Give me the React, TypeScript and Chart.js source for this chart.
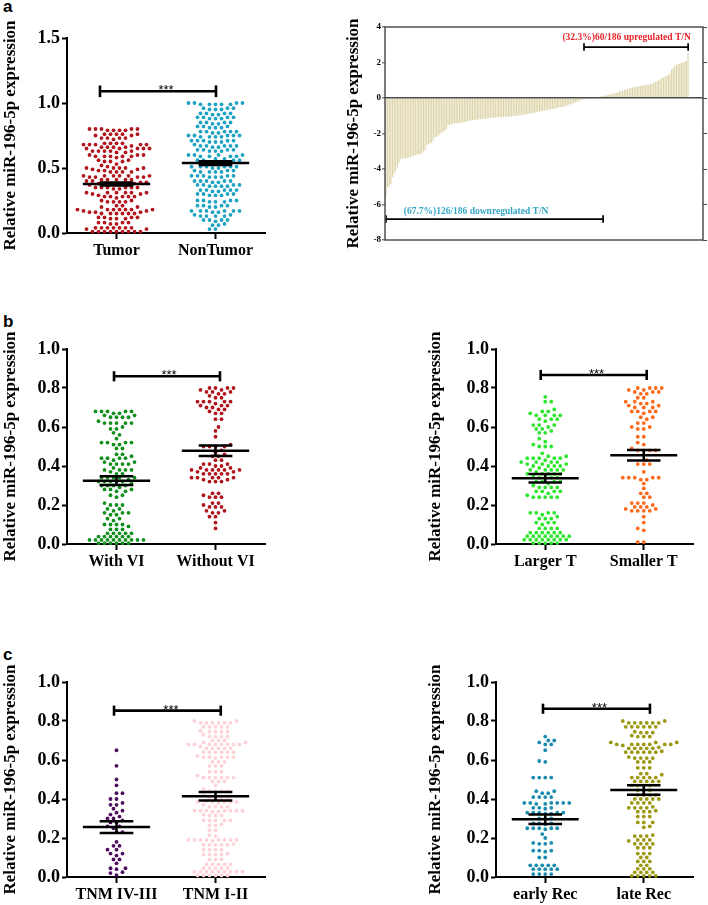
import React, { useEffect, useRef } from 'react';
import { Chart, registerables } from 'chart.js';
Chart.register(...registerables);

const SERIF = '"Liberation Serif", "Times New Roman", serif';
const SANS = '"Liberation Sans", Arial, sans-serif';
const Y_TITLE = 'Relative miR-196-5p expression';

// ---------- categories ----------
const labelsA = ['Tumor', 'NonTumor'];
const labelsVI = ['With VI', 'Without VI'];
const labelsT = ['Larger T', 'Smaller T'];
const labelsTNM = ['TNM IV-III', 'TNM I-II'];
const labelsRec = ['early Rec', 'late Rec'];

// ---------- panel a (left) ----------
const tumor = [
  0.80, 0.80, 0.79, 0.80, 0.79, 0.80, 0.79, 0.80, 0.79,
  0.76, 0.76, 0.75, 0.76, 0.76, 0.75, 0.76,
  0.73, 0.73, 0.72, 0.73, 0.73,
  0.69, 0.68, 0.69, 0.68, 0.68, 0.69, 0.68, 0.67, 0.68, 0.69,
  0.65, 0.66, 0.65, 0.65, 0.66, 0.65, 0.66, 0.65, 0.66,
  0.63, 0.62, 0.63, 0.63, 0.62, 0.63, 0.63,
  0.60, 0.59, 0.59, 0.60, 0.59, 0.58, 0.59, 0.59, 0.60,
  0.55, 0.56, 0.55, 0.55, 0.56,
  0.53, 0.52,
  0.50, 0.50, 0.49, 0.50, 0.50, 0.49, 0.50, 0.51,
  0.47, 0.48, 0.47, 0.47, 0.48, 0.47,
  0.44, 0.43, 0.44, 0.44, 0.43, 0.44, 0.44, 0.43, 0.44, 0.43,
  0.41, 0.41, 0.40, 0.41, 0.41, 0.41, 0.40,
  0.38, 0.38, 0.39, 0.38, 0.37, 0.38, 0.38, 0.39, 0.38, 0.37,
  0.35, 0.35, 0.34, 0.35, 0.35, 0.34, 0.35, 0.35,
  0.31, 0.31, 0.30, 0.31, 0.31, 0.30, 0.31, 0.31,
  0.28, 0.28, 0.28, 0.29, 0.28, 0.28, 0.27,
  0.24, 0.25, 0.24, 0.24, 0.25, 0.24,
  0.21, 0.20, 0.21, 0.20,
  0.18, 0.18, 0.17, 0.18, 0.18, 0.18, 0.17, 0.18, 0.18,
  0.15, 0.16, 0.15, 0.15, 0.16, 0.15, 0.15, 0.16, 0.15,
  0.12, 0.11, 0.12, 0.11, 0.12, 0.12, 0.11,
  0.08, 0.08, 0.07, 0.08, 0.08, 0.07,
  0.04, 0.04, 0.03, 0.04, 0.04, 0.04, 0.03, 0.04, 0.04,
  0.01, 0.01, 0.01, 0.01, 0.01, 0.01, 0.01, 0.01, 0.01,
];
const nonTumor = [
  1.00, 0.99, 1.00, 0.99, 1.00, 0.99, 0.99, 1.00, 0.99,
  0.96, 0.95, 0.96, 0.95, 0.96, 0.95,
  0.92, 0.92, 0.91, 0.92, 0.92, 0.91,
  0.89, 0.88, 0.89, 0.88, 0.89, 0.88, 0.89,
  0.85, 0.84, 0.85, 0.85, 0.84, 0.85,
  0.82, 0.81, 0.82, 0.81, 0.82, 0.81,
  0.78, 0.78, 0.77, 0.78, 0.78, 0.77, 0.78,
  0.75, 0.74, 0.75, 0.74, 0.75, 0.74, 0.75, 0.74, 0.75,
  0.71, 0.70, 0.71, 0.71, 0.70, 0.71, 0.70, 0.71,
  0.67, 0.67, 0.66, 0.67, 0.67, 0.68, 0.67, 0.66,
  0.64, 0.63, 0.64, 0.64, 0.63, 0.64, 0.63,
  0.60, 0.59, 0.60, 0.59, 0.60, 0.59, 0.60, 0.59,
  0.56, 0.57, 0.56, 0.56, 0.57, 0.56,
  0.54, 0.54, 0.53, 0.54,
  0.51, 0.51, 0.50, 0.51, 0.51, 0.50, 0.51, 0.51,
  0.48, 0.47, 0.47, 0.48, 0.47, 0.47, 0.48,
  0.44, 0.43, 0.44, 0.44, 0.43, 0.44, 0.43, 0.44,
  0.40, 0.40, 0.39, 0.40, 0.40, 0.39, 0.40,
  0.37, 0.36, 0.37, 0.36, 0.37, 0.36, 0.37, 0.36,
  0.33, 0.33, 0.32, 0.33, 0.33, 0.32, 0.33,
  0.30, 0.29, 0.30, 0.29, 0.30, 0.29, 0.30,
  0.25, 0.24, 0.25, 0.24, 0.25, 0.24, 0.25,
  0.21, 0.21, 0.20, 0.21, 0.21, 0.20,
  0.17, 0.17, 0.16, 0.17, 0.17, 0.16, 0.17, 0.17,
  0.13, 0.14, 0.13, 0.13, 0.14, 0.13,
  0.10, 0.10, 0.09, 0.10, 0.10,
  0.07, 0.06, 0.06,
  0.03, 0.03,
];
const meansA = [0.377, 0.538];
const semsA = [0.012, 0.014];

// ---------- panel a (right): T/N ratio, sorted ----------
const tnRatio = [
  -5.58, -5.05, -4.95, -4.85, -4.45, -4.3, -4.1, -3.9, -3.65, -3.45,
  -3.42, -3.4, -3.4, -3.38, -3.35, -3.3, -3.28, -3.25, -3.22, -3.2, -3.18, -3.15, -3.12,
  -3.0, -2.95,
  -2.65, -2.6, -2.58, -2.52, -2.4,
  -2.2, -2.18, -2.12, -2.05, -1.95,
  -1.9, -1.85, -1.75,
  -1.55, -1.5, -1.48,
  -1.45, -1.44, -1.42, -1.42, -1.4, -1.39, -1.38, -1.36, -1.34, -1.3,
  -1.28, -1.27, -1.26, -1.25, -1.24, -1.22, -1.2, -1.19, -1.18, -1.17, -1.16, -1.15, -1.14, -1.12,
  -1.11, -1.1, -1.1, -1.09, -1.08, -1.08, -1.07, -1.06, -1.06, -1.05, -1.05, -1.04, -1.03, -1.02, -1.01, -1.0,
  -0.98, -0.97, -0.96, -0.95, -0.94, -0.92, -0.9, -0.88, -0.86, -0.84, -0.82, -0.8,
  -0.78, -0.76, -0.74, -0.72, -0.7, -0.69, -0.68, -0.66, -0.64, -0.62, -0.6,
  -0.58, -0.56, -0.54, -0.52, -0.5, -0.48, -0.45, -0.42,
  -0.38, -0.35, -0.32, -0.28, -0.25, -0.22, -0.18, -0.14, -0.1, -0.07, -0.04, -0.03, -0.02, -0.01,
  0.02, 0.03, 0.04, 0.05, 0.06, 0.07, 0.09, 0.11, 0.13,
  0.16, 0.18, 0.2, 0.22, 0.24, 0.27, 0.3, 0.33,
  0.36, 0.39, 0.42, 0.45, 0.48, 0.5, 0.53, 0.56, 0.58, 0.61, 0.63, 0.65,
  0.67, 0.69, 0.7, 0.72, 0.73, 0.75, 0.76, 0.78, 0.8, 0.85,
  0.9, 0.95, 1.0, 1.05, 1.12, 1.18, 1.22, 1.26, 1.3, 1.38,
  1.6, 1.7, 1.8, 1.88, 1.92, 1.95, 1.98, 2.0, 2.03, 2.08, 2.55,
];
const upText = '(32.3%)60/186 upregulated T/N';
const downText = '(67.7%)126/186 downregulated T/N';

// ---------- panel b ----------
const withVI = [
  0.68, 0.68, 0.67, 0.68, 0.68, 0.67, 0.68,
  0.65, 0.65, 0.66, 0.65, 0.65, 0.66,
  0.62, 0.62, 0.62, 0.63, 0.62, 0.62,
  0.59, 0.59, 0.60,
  0.57, 0.56,
  0.54,
  0.52, 0.51, 0.52, 0.51, 0.52, 0.52,
  0.49, 0.49,
  0.46, 0.46, 0.45,
  0.44, 0.44, 0.43, 0.44, 0.44,
  0.41, 0.42, 0.41, 0.41, 0.42, 0.41,
  0.38, 0.38, 0.39, 0.38, 0.38,
  0.36, 0.36, 0.37,
  0.34, 0.34, 0.34, 0.33, 0.34, 0.34,
  0.32, 0.32, 0.31, 0.32, 0.32, 0.32,
  0.30, 0.30, 0.29, 0.30, 0.30,
  0.28, 0.27, 0.28, 0.28, 0.27,
  0.25, 0.25, 0.24,
  0.20, 0.21, 0.20, 0.20,
  0.18, 0.18, 0.17,
  0.16, 0.15, 0.16, 0.16, 0.15,
  0.13, 0.12, 0.13,
  0.10, 0.10, 0.09, 0.10, 0.10,
  0.075, 0.075, 0.075,
  0.055, 0.055, 0.055, 0.055, 0.055,
  0.038, 0.038, 0.038, 0.038, 0.038, 0.038,
  0.021, 0.021, 0.021, 0.021, 0.021, 0.021, 0.021, 0.021, 0.021, 0.021,
  0.004, 0.004, 0.004, 0.004, 0.004, 0.004,
];
const withoutVI = [
  0.80, 0.80, 0.79, 0.80, 0.80, 0.79,
  0.78, 0.77, 0.78, 0.77, 0.78,
  0.75, 0.75, 0.76,
  0.73, 0.73, 0.72, 0.73, 0.73, 0.73,
  0.71, 0.70, 0.71, 0.70, 0.71,
  0.69, 0.69,
  0.67, 0.67, 0.68,
  0.64, 0.64,
  0.60, 0.58, 0.55,
  0.50, 0.50, 0.51, 0.50, 0.50,
  0.48, 0.47,
  0.45, 0.45, 0.46,
  0.43, 0.43,
  0.41, 0.40, 0.41, 0.40, 0.41,
  0.38, 0.38, 0.39, 0.38, 0.38, 0.39, 0.38, 0.38,
  0.36, 0.36, 0.37, 0.36, 0.36, 0.37, 0.36,
  0.34, 0.34, 0.33, 0.34, 0.34, 0.33, 0.34,
  0.32, 0.32, 0.32,
  0.26, 0.26,
  0.24, 0.25, 0.24, 0.24,
  0.21, 0.21,
  0.19, 0.19, 0.19, 0.20,
  0.17, 0.16, 0.17, 0.16,
  0.14, 0.14,
  0.11, 0.08,
];
const meansVI = [0.325, 0.478];
const semsVI = [0.022, 0.027];

const largerT = [
  0.755,
  0.73, 0.73,
  0.68, 0.68, 0.69,
  0.66, 0.66, 0.67, 0.66, 0.66,
  0.64, 0.63, 0.64, 0.64,
  0.61, 0.61, 0.61, 0.60,
  0.59, 0.59, 0.58,
  0.57, 0.57,
  0.54, 0.525,
  0.50, 0.50, 0.50, 0.51,
  0.465,
  0.44, 0.44, 0.45, 0.44, 0.44, 0.45, 0.44,
  0.42, 0.42, 0.42, 0.43, 0.42,
  0.40, 0.41, 0.40, 0.40, 0.41, 0.40, 0.41,
  0.38, 0.38, 0.39, 0.38, 0.38, 0.38,
  0.36, 0.36, 0.36, 0.37, 0.36, 0.36,
  0.34, 0.34, 0.35, 0.34, 0.34,
  0.32, 0.32, 0.31, 0.32, 0.32,
  0.29, 0.29, 0.30, 0.29, 0.29,
  0.27, 0.27, 0.26, 0.27, 0.27,
  0.24, 0.24, 0.25, 0.24, 0.24, 0.24,
  0.16, 0.16, 0.15, 0.16, 0.16,
  0.13, 0.13, 0.14, 0.13,
  0.11, 0.10, 0.11, 0.11,
  0.08, 0.08, 0.08, 0.08,
  0.058, 0.058, 0.058, 0.058, 0.058, 0.058,
  0.04, 0.04, 0.04, 0.04, 0.04, 0.04, 0.04, 0.04,
  0.022, 0.022, 0.022, 0.022, 0.022, 0.022, 0.022, 0.022,
  0.005, 0.005, 0.005, 0.005, 0.005,
];
const smallerT = [
  0.80, 0.80, 0.79, 0.80, 0.80, 0.79,
  0.78, 0.77, 0.78, 0.77, 0.78,
  0.75, 0.75,
  0.73, 0.72, 0.73, 0.72, 0.73,
  0.70, 0.71, 0.70, 0.70, 0.71,
  0.68, 0.68, 0.67, 0.68, 0.68,
  0.65, 0.64, 0.65,
  0.62, 0.62,
  0.60, 0.59, 0.60, 0.59,
  0.55, 0.55,
  0.52, 0.51,
  0.48, 0.48, 0.49, 0.48, 0.48,
  0.43,
  0.41, 0.41, 0.41,
  0.37,
  0.34, 0.34, 0.33, 0.34, 0.34, 0.33, 0.34,
  0.31, 0.285,
  0.26, 0.26,
  0.24, 0.24,
  0.21, 0.21, 0.21, 0.20,
  0.19, 0.19, 0.19,
  0.17, 0.18, 0.17, 0.17, 0.18, 0.17,
  0.14, 0.11,
  0.08, 0.07,
  0.01, 0.01,
];
const meansT = [0.337, 0.455];
const semsT = [0.022, 0.027];

// ---------- panel c ----------
const tnmIVIII = [
  0.65, 0.57, 0.50, 0.47, 0.43, 0.43, 0.40, 0.40, 0.37, 0.37, 0.38, 0.35, 0.34,
  0.32, 0.33, 0.30, 0.30, 0.31, 0.29, 0.28, 0.28, 0.26, 0.25, 0.26, 0.23, 0.23,
  0.18, 0.16, 0.16, 0.14, 0.14, 0.12, 0.11, 0.12, 0.09, 0.09, 0.07,
  0.045, 0.04, 0.045, 0.025, 0.02, 0.01,
];
const tnmIII = [
  0.79, 0.79, 0.80, 0.79, 0.79, 0.80, 0.79, 0.79,
  0.77, 0.77, 0.77, 0.77, 0.77,
  0.745, 0.745, 0.75, 0.745, 0.745,
  0.72, 0.72, 0.72, 0.73, 0.72,
  0.70, 0.70, 0.70,
  0.68, 0.68, 0.69, 0.68, 0.68, 0.68, 0.68, 0.69, 0.68, 0.68,
  0.66, 0.66, 0.66, 0.67, 0.66, 0.66,
  0.64, 0.64, 0.64, 0.64, 0.64, 0.64,
  0.615, 0.615, 0.62, 0.615, 0.615, 0.61, 0.615,
  0.59, 0.59, 0.59,
  0.57, 0.57, 0.57,
  0.54, 0.54, 0.54,
  0.51, 0.51, 0.52, 0.51, 0.51, 0.51, 0.51,
  0.49, 0.49, 0.49,
  0.47,
  0.44, 0.44, 0.45, 0.44, 0.44,
  0.41, 0.41, 0.41, 0.42, 0.41,
  0.385, 0.385, 0.39, 0.385, 0.385, 0.38, 0.385,
  0.36, 0.36, 0.36, 0.37, 0.36,
  0.34, 0.34, 0.34, 0.335, 0.34, 0.34, 0.34, 0.335, 0.34,
  0.315, 0.315, 0.32, 0.315,
  0.29, 0.29, 0.29, 0.29, 0.29,
  0.265, 0.265, 0.27,
  0.24, 0.24,
  0.215, 0.21,
  0.19, 0.19, 0.19, 0.19, 0.19, 0.19, 0.19, 0.185, 0.19,
  0.165, 0.165, 0.17, 0.165, 0.165, 0.165,
  0.14, 0.14, 0.14, 0.14,
  0.115, 0.115, 0.12, 0.115, 0.115,
  0.09, 0.09, 0.09,
  0.065, 0.065, 0.065, 0.065, 0.065,
  0.046, 0.046, 0.046, 0.046, 0.046,
  0.027, 0.027, 0.027, 0.027, 0.027, 0.027, 0.027, 0.027, 0.027,
  0.008, 0.008, 0.008, 0.008, 0.008, 0.008,
];
const meansTNM = [0.256, 0.414];
const semsTNM = [0.03, 0.022];

const earlyRec = [
  0.72, 0.70, 0.69, 0.70, 0.68, 0.68, 0.65, 0.595, 0.59,
  0.51, 0.51, 0.51, 0.51,
  0.44, 0.44, 0.43, 0.43,
  0.41, 0.41, 0.41, 0.41,
  0.38, 0.38, 0.375, 0.38, 0.38, 0.38, 0.375, 0.38,
  0.355, 0.355, 0.35, 0.355,
  0.33, 0.33, 0.325, 0.33, 0.33, 0.33, 0.325,
  0.30, 0.30, 0.30,
  0.275, 0.27, 0.275, 0.275,
  0.25, 0.25, 0.245, 0.25, 0.25, 0.25,
  0.22, 0.20,
  0.175, 0.17, 0.175, 0.17,
  0.135, 0.13, 0.135, 0.135,
  0.10, 0.10,
  0.06, 0.06, 0.06, 0.06, 0.06,
  0.04, 0.04, 0.04, 0.04, 0.04,
  0.015, 0.015, 0.015, 0.015,
];
const lateRec = [
  0.79, 0.80, 0.79, 0.79, 0.79, 0.79, 0.79, 0.80,
  0.77, 0.77, 0.77, 0.77, 0.77, 0.77,
  0.74, 0.74, 0.745, 0.74,
  0.72, 0.72, 0.72, 0.725,
  0.69, 0.69, 0.69,
  0.68, 0.68, 0.675, 0.68, 0.68, 0.68, 0.68, 0.68,
  0.66, 0.66, 0.66, 0.66, 0.665, 0.66,
  0.64, 0.64, 0.64, 0.645, 0.64, 0.64, 0.64,
  0.61, 0.61, 0.61, 0.61, 0.615,
  0.59, 0.59, 0.59,
  0.56, 0.56, 0.56,
  0.53, 0.53, 0.525,
  0.51, 0.51, 0.51, 0.51, 0.51,
  0.49, 0.49, 0.49, 0.49, 0.49,
  0.47, 0.47, 0.47, 0.47,
  0.445, 0.445, 0.445,
  0.42, 0.42, 0.42, 0.42,
  0.40, 0.40, 0.40, 0.40, 0.40,
  0.38, 0.38, 0.38, 0.38,
  0.355, 0.355, 0.36, 0.355, 0.355,
  0.335, 0.335, 0.34, 0.335,
  0.31, 0.31, 0.31,
  0.28, 0.28, 0.28,
  0.255, 0.26,
  0.21, 0.21, 0.21, 0.215,
  0.19, 0.19, 0.185, 0.19,
  0.17, 0.17, 0.17, 0.17,
  0.15, 0.15, 0.15,
  0.12, 0.12, 0.12,
  0.10, 0.10,
  0.08, 0.08, 0.08,
  0.06, 0.06,
  0.042, 0.042, 0.042,
  0.024, 0.024, 0.024, 0.024,
  0.006, 0.006, 0.006, 0.006, 0.006,
];
const meansRec = [0.296, 0.446];
const semsRec = [0.024, 0.024];

// ---------- layout of the dot panels ----------
const dotPanels = [
  { key: 'a', left: 0, top: 20, width: 290, height: 250, pad: { left: 0, top: 18, right: 25, bottom: 0 }, yW: 67, xH: 37,
    yMax: 1.5, yStep: 0.5, labels: labelsA, groups: [tumor, nonTumor], colors: ['#b2161e', '#1fa3c3'],
    means: meansA, sems: semsA, bracket: [0.833, 2.005, 1.09, 0.045], starX: 1.5 },
  { key: 'b1', left: 0, top: 330, width: 290, height: 245, pad: { left: 0, top: 19, right: 25, bottom: 0 }, yW: 67, xH: 31,
    yMax: 1.0, yStep: 0.2, labels: labelsVI, groups: [withVI, withoutVI], colors: ['#138f1e', '#b0161e'],
    means: meansVI, sems: semsVI, bracket: [0.975, 2.045, 0.86, 0.026], starX: 1.53 },
  { key: 'b2', left: 425, top: 330, width: 283, height: 245, pad: { left: 0, top: 19, right: 15, bottom: 0 }, yW: 71, xH: 31,
    yMax: 1.0, yStep: 0.2, labels: labelsT, groups: [largerT, smallerT], colors: ['#2ee62e', '#ff6a1a'],
    means: meansT, sems: semsT, bracket: [0.954, 2.03, 0.867, 0.026], starX: 1.52 },
  { key: 'c1', left: 0, top: 660, width: 290, height: 245, pad: { left: 0, top: 22, right: 25, bottom: 0 }, yW: 67, xH: 28,
    yMax: 1.0, yStep: 0.2, labels: labelsTNM, groups: [tnmIVIII, tnmIII], colors: ['#4d0f5e', '#fdd3d7'],
    means: meansTNM, sems: semsTNM, bracket: [0.975, 2.053, 0.853, 0.026], starX: 1.55 },
  { key: 'c2', left: 425, top: 660, width: 283, height: 245, pad: { left: 0, top: 22, right: 15, bottom: 0 }, yW: 71, xH: 28,
    yMax: 1.0, yStep: 0.2, labels: labelsRec, groups: [earlyRec, lateRec], colors: ['#1a8cae', '#9c9812'],
    means: meansRec, sems: semsRec, bracket: [0.977, 2.063, 0.863, 0.026], starX: 1.55 },
];

// GraphPad-like scatter layout: horizontal offset only, in pixels
function swarm(vals: number[], center: number, pyu: number, pxu: number) {
  const MIN = 4.4, GRID = 3;
  const sorted = [...vals].sort((a, b) => a - b);
  const placed: { x: number; y: number }[] = [];
  const out: { x: number; y: number }[] = [];
  let flip = 1;
  for (const v of sorted) {
    const y = v * pyu;
    let off = 0;
    for (let j = 0; j < 120; j++) {
      const k = Math.ceil(j / 2);
      const cand = j === 0 ? 0 : (j % 2 === 1 ? flip : -flip) * k * GRID;
      let ok = true;
      for (let q = placed.length - 1; q >= 0; q--) {
        const p = placed[q];
        if (y - p.y >= MIN) break;
        const dx = p.x - cand, dy = p.y - y;
        if (dx * dx + dy * dy < MIN * MIN) { ok = false; break; }
      }
      if (ok) { off = cand; break; }
    }
    flip = -flip;
    placed.push({ x: off, y });
    out.push({ x: center + off / pxu, y: v });
  }
  return out;
}

function lineDs(pts: { x: number; y: number }[], width = 2.5) {
  return {
    data: pts, showLine: true, borderColor: '#000', borderWidth: width, pointRadius: 0,
    pointHoverRadius: 0, clip: false, order: 0, borderCapStyle: 'butt', fill: false,
  };
}

function DotPanel({ p }: { p: any }) {
  const ref = useRef<HTMLCanvasElement | null>(null);
  useEffect(() => {
    const canvas = ref.current!;
    const datasets: any[] = [];
    for (let g = 0; g < 2; g++) {
      const c = g + 1, m = p.means[g], s = p.sems[g];
      datasets.push(lineDs([{ x: c - 0.34, y: m }, { x: c + 0.34, y: m }]));
      datasets.push(lineDs([{ x: c - 0.17, y: m + s }, { x: c + 0.17, y: m + s }]));
      datasets.push(lineDs([{ x: c - 0.17, y: m - s }, { x: c + 0.17, y: m - s }]));
      datasets.push(lineDs([{ x: c, y: m - s }, { x: c, y: m + s }]));
    }
    const [bx1, bx2, by, bc] = p.bracket;
    datasets.push(lineDs([{ x: bx1, y: by }, { x: bx2, y: by }], 2.6));
    datasets.push(lineDs([{ x: bx1, y: by - bc }, { x: bx1, y: by + bc }], 2.6));
    datasets.push(lineDs([{ x: bx2, y: by - bc }, { x: bx2, y: by + bc }], 2.6));
    const firstPt = datasets.length;
    for (let g = 0; g < 2; g++) {
      datasets.push({
        data: [], showLine: false, pointRadius: 1.9, pointHoverRadius: 1.9,
        pointBackgroundColor: p.colors[g], pointBorderWidth: 0, borderWidth: 0,
        backgroundColor: p.colors[g], clip: false, order: 1,
      });
    }
    const starPlugin = {
      id: 'stars',
      afterDatasetsDraw(chart: any) {
        const { ctx, scales } = chart;
        ctx.save();
        ctx.font = `13px ${SANS}`;
        ctx.fillStyle = '#000';
        ctx.textAlign = 'center';
        ctx.textBaseline = 'alphabetic';
        ctx.fillText('***', scales.x.getPixelForValue(p.starX), scales.y.getPixelForValue(by) + 3);
        ctx.restore();
      },
    };
    const fontTick = { family: SERIF, size: 18, weight: 'bold' as const };
    const chart = new Chart(canvas, {
      type: 'scatter',
      data: { datasets },
      plugins: [starPlugin],
      options: {
        animation: false,
        responsive: false,
        maintainAspectRatio: false,
        events: [],
        layout: { padding: p.pad },
        plugins: { legend: { display: false }, tooltip: { enabled: false } },
        scales: {
          x: {
            type: 'linear', min: 0.5, max: 2.5, offset: false,
            afterBuildTicks: (s: any) => { s.ticks = [{ value: 1 }, { value: 2 }]; },
            afterFit: (s: any) => { s.height = p.xH; },
            ticks: {
              autoSkip: false, maxRotation: 0, padding: 2, color: '#000',
              font: { family: SERIF, size: 16, weight: 'bold' },
              callback: (v: any) => p.labels[Math.round(v) - 1],
            },
            grid: { drawOnChartArea: false, drawTicks: true, tickLength: 6, tickWidth: 2, tickColor: '#000' },
            border: { display: true, color: '#000', width: 2 },
          },
          y: {
            type: 'linear', min: 0, max: p.yMax,
            afterFit: (s: any) => { s.width = p.yW; },
            ticks: {
              stepSize: p.yStep, padding: 2, color: '#000', font: fontTick,
              callback: (v: any) => Number(v).toFixed(1),
            },
            grid: { drawOnChartArea: false, drawTicks: true, tickLength: 5, tickWidth: 2, tickColor: '#000' },
            border: { display: true, color: '#000', width: 2 },
            title: {
              display: true, text: Y_TITLE, color: '#000', padding: 0,
              font: { family: SERIF, size: 17, weight: 'bold' },
            },
          },
        },
      } as any,
    });
    const ys = chart.scales.y, xs = chart.scales.x;
    const pyu = Math.abs(ys.getPixelForValue(1) - ys.getPixelForValue(0));
    const pxu = Math.abs(xs.getPixelForValue(2) - xs.getPixelForValue(1));
    p.groups.forEach((vals: number[], g: number) => {
      chart.data.datasets[firstPt + g].data = swarm(vals, g + 1, pyu, pxu) as any;
    });
    chart.update();
    return () => chart.destroy();
  }, []);
  return (
    <canvas ref={ref} width={p.width} height={p.height}
      style={{ position: 'absolute', left: p.left, top: p.top, width: p.width, height: p.height }} />
  );
}

function BarPanel() {
  const ref = useRef<HTMLCanvasElement | null>(null);
  useEffect(() => {
    const canvas = ref.current!;
    const bl = (pts: { x: number; y: number }[]) => ({ ...lineDs(pts, 1.7), type: 'line' });
    const frameAndText = {
      id: 'frameText',
      afterDatasetsDraw(chart: any) {
        const { ctx, chartArea: a, scales } = chart;
        ctx.save();
        ctx.strokeStyle = '#505050';
        ctx.lineWidth = 1.5;
        ctx.strokeRect(a.left, a.top, a.right - a.left, a.bottom - a.top);
        ctx.font = `bold 9.5px ${SERIF}`;
        ctx.textAlign = 'center';
        ctx.textBaseline = 'middle';
        ctx.fillStyle = '#e8232a';
        ctx.fillText(upText, scales.x.getPixelForValue(147.4), scales.y.getPixelForValue(3.38));
        ctx.fillStyle = '#33a6c6';
        ctx.fillText(downText, scales.x.getPixelForValue(55.2), scales.y.getPixelForValue(-6.37));
        ctx.restore();
      },
    };
    const chart = new Chart(canvas, {
      type: 'bar',
      data: {
        datasets: [
          bl([{ x: 121.3, y: 2.87 }, { x: 185.1, y: 2.87 }]),
          bl([{ x: 121.3, y: 2.66 }, { x: 121.3, y: 3.08 }]),
          bl([{ x: 185.1, y: 2.66 }, { x: 185.1, y: 3.08 }]),
          bl([{ x: 0, y: -6.82 }, { x: 133, y: -6.82 }]),
          bl([{ x: 0, y: -7.03 }, { x: 0, y: -6.61 }]),
          bl([{ x: 133, y: -7.03 }, { x: 133, y: -6.61 }]),
          {
            type: 'bar', data: tnRatio.map((v, i) => ({ x: i, y: v })),
            backgroundColor: '#ddd4a9', borderWidth: 0, barPercentage: 0.7, categoryPercentage: 1, order: 2,
          },
        ] as any,
      },
      plugins: [frameAndText],
      options: {
        animation: false,
        responsive: false,
        maintainAspectRatio: false,
        events: [],
        layout: { padding: { left: 3, top: 27, right: 0, bottom: 10 } },
        plugins: { legend: { display: false }, tooltip: { enabled: false } },
        scales: {
          x: { type: 'linear', min: -0.6, max: 194.2, offset: false, display: false },
          y: {
            type: 'linear', min: -8, max: 4,
            afterFit: (s: any) => { s.width = 42; },
            ticks: { stepSize: 2, padding: 1, color: '#000', font: { family: SERIF, size: 9, weight: 'bold' } },
            grid: {
              z: 1, drawOnChartArea: true, drawTicks: true, tickLength: 3, tickWidth: 1, tickColor: '#444',
              lineWidth: 1.6,
              color: (ctx: any) => (ctx.tick && ctx.tick.value === 0 ? '#4a4a4a' : 'rgba(0,0,0,0)'),
            },
            border: { display: false },
            title: {
              display: true, text: Y_TITLE, color: '#000', padding: 0,
              font: { family: SERIF, size: 17, weight: 'bold' },
            },
          },
          y2: {
            type: 'linear', position: 'right', min: -8, max: 4,
            afterFit: (s: any) => { s.width = 5; },
            ticks: { stepSize: 2, display: false },
            grid: { drawOnChartArea: false, drawTicks: true, tickLength: 4, tickWidth: 1, tickColor: '#444' },
            border: { display: false },
          },
        },
      } as any,
    });
    return () => chart.destroy();
  }, []);
  return (
    <canvas ref={ref} width={368} height={250}
      style={{ position: 'absolute', left: 340, top: 0, width: 368, height: 250 }} />
  );
}

const letterStyle = (top: number): React.CSSProperties => ({
  position: 'absolute', left: 3, top, font: `bold 17px ${SANS}`, lineHeight: '17px', color: '#000',
});

export default function App() {
  return (
    <div style={{ position: 'absolute', left: 0, top: 0, width: 708, height: 905, background: '#fff', overflow: 'hidden' }}>
      <div style={letterStyle(-2)}>a</div>
      <div style={letterStyle(313)}>b</div>
      <div style={letterStyle(646)}>c</div>
      {dotPanels.map((p) => <DotPanel key={p.key} p={p} />)}
      <BarPanel />
    </div>
  );
}
